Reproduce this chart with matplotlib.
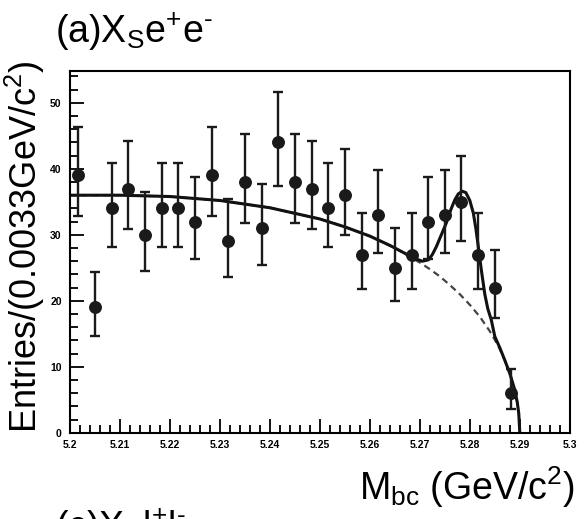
import numpy as np
import matplotlib
matplotlib.use('Agg')
import matplotlib.pyplot as plt
from matplotlib.ticker import MultipleLocator, FixedLocator

plt.rcParams['font.family'] = ['Liberation Sans', 'DejaVu Sans']
plt.rcParams['mathtext.fontset'] = 'custom'
plt.rcParams['mathtext.rm'] = 'Liberation Sans'
plt.rcParams['mathtext.it'] = 'Liberation Sans:italic'

# Mbc histogram, 30 bins of 0.0033 GeV from 5.2 to 5.3 (last 3 bins empty)
bin_edges = np.linspace(5.2, 5.3, 31)
counts = [39, 19, 34, 37, 30, 34, 34, 32, 39, 29, 38, 31, 44, 38, 37,
          34, 36, 27, 33, 25, 27, 32, 33, 35, 27, 22, 6]
err_lo = [6.22, 4.33, 5.81, 6.06, 5.45, 5.81, 5.81, 5.63, 6.22, 5.36, 6.14, 5.55, 6.61, 6.14, 6.06,
          5.81, 5.98, 5.17, 5.72, 4.97, 5.17, 5.63, 5.72, 5.89, 5.17, 4.66, 2.35]
err_hi = [7.30, 5.44, 6.89, 7.14, 6.55, 6.89, 6.89, 6.72, 7.30, 6.48, 7.22, 6.64, 7.69, 7.22, 7.14,
          6.89, 7.06, 6.27, 6.81, 6.07, 6.27, 6.72, 6.81, 6.98, 6.27, 5.77, 3.60]

# total fit (solid)
fit_x = [5.200, 5.210, 5.220, 5.230, 5.240, 5.250, 5.255, 5.260, 5.264, 5.267, 5.269,
         5.2705, 5.2717, 5.2725, 5.2733, 5.2743, 5.2753, 5.2762, 5.2770, 5.2777, 5.2785,
         5.2792, 5.2800, 5.2807, 5.2812, 5.2817, 5.2823, 5.2830, 5.2836, 5.2843, 5.2850,
         5.286, 5.287, 5.288, 5.289, 5.2895, 5.2898, 5.290]
fit_y = [36.0, 36.0, 35.8, 35.2, 34.1, 32.4, 31.2, 29.8, 28.4, 27.2, 26.4,
         26.0, 26.2, 27.0, 28.2, 30.0, 31.8, 33.8, 35.3, 36.2, 36.6,
         36.4, 35.2, 33.3, 31.0, 28.2, 24.7, 21.0, 18.8, 17.1, 14.6,
         12.9, 11.0, 9.0, 6.5, 4.6, 2.9, 0.0]

# background component (dashed)
bkg_x = [5.200, 5.210, 5.220, 5.230, 5.240, 5.250, 5.255, 5.260, 5.265, 5.270, 5.272,
         5.274, 5.276, 5.278, 5.280, 5.282, 5.284, 5.285, 5.286, 5.287, 5.288, 5.289,
         5.2895, 5.2898, 5.290]
bkg_y = [36.0, 36.0, 35.8, 35.2, 34.1, 32.4, 31.2, 29.8, 28.0, 25.8, 24.8,
         23.7, 22.4, 21.0, 19.4, 17.6, 15.4, 14.1, 12.7, 11.0, 9.0, 6.5,
         4.6, 2.9, 0.0]

centers = 0.5 * (bin_edges[:-1] + bin_edges[1:])[:len(counts)]

fig = plt.figure(figsize=(5.88, 5.19), dpi=100)
ax = fig.add_axes([0.119, 0.166, 0.850, 0.697])

ax.plot(bkg_x, bkg_y, color='#444444', lw=1.6, ls=(0, (3, 2)))
ax.plot(fit_x, fit_y, color='#111111', lw=2.2)
ax.errorbar(centers, counts, yerr=[err_lo, err_hi], fmt='o', color='#1a1a1a',
            ms=8.3, elinewidth=1.7, capsize=3.6, capthick=1.7)

ax.set_xlim(5.2, 5.3)
ax.set_ylim(0, 54.8)
ax.xaxis.set_major_locator(FixedLocator(np.round(np.arange(5.2, 5.3001, 0.01), 2)))
ax.xaxis.set_minor_locator(MultipleLocator(0.002))
ax.yaxis.set_major_locator(MultipleLocator(10))
ax.yaxis.set_minor_locator(MultipleLocator(2))
ax.set_xticklabels(['5.2', '5.21', '5.22', '5.23', '5.24', '5.25', '5.26',
                    '5.27', '5.28', '5.29', '5.3'])
ax.tick_params(which='both', direction='in', top=False, right=False,
               labelsize=7.5, width=1.3)
ax.tick_params(which='major', length=10)
ax.tick_params(which='minor', length=6)
for lab in ax.get_xticklabels() + ax.get_yticklabels():
    lab.set_fontweight('bold')
ax.tick_params(axis='x', pad=5)
ax.tick_params(axis='y', pad=6)
for sp in ax.spines.values():
    sp.set_linewidth(1.5)

fig.text(0.0935, 0.917, r'(a)X$_{\mathrm{S}}$e$^{+}$e$^{\text{-}}$', fontsize=27, ha='left', va='baseline')
fig.text(0.978, 0.036, r'M$_{\mathrm{bc}}$ (GeV/c$^{2}$)', fontsize=27, ha='right', va='baseline')
fig.text(0.042, 0.524, r'Entries/(0.0033GeV/c$^{2}$)', fontsize=26, rotation=90,
         ha='center', va='center')
# top of next panel's title, cut by the figure edge
fig.text(0.0935, -0.038, r'(c)X$_{\mathrm{S}}$l$^{+}$l$^{\text{-}}$', fontsize=27, ha='left', va='baseline')

fig.savefig('out.png', dpi=100)
